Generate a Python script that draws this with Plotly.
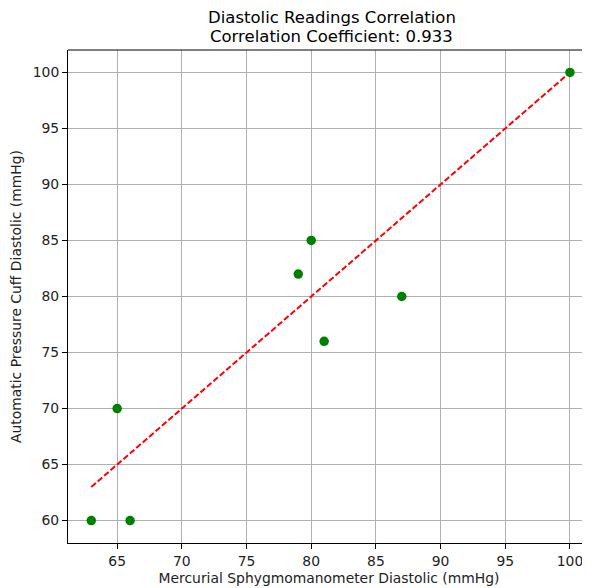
import plotly.graph_objects as go

mercurial = [63, 65, 66, 79, 80, 81, 87, 100]
cuff = [60, 70, 60, 82, 85, 76, 80, 100]
line_x = [min(mercurial), max(mercurial)]
line_y = [min(mercurial), max(mercurial)]
x_ticks = [65, 70, 75, 80, 85, 90, 95, 100]
y_ticks = [60, 65, 70, 75, 80, 85, 90, 95, 100]
title_lines = ["Diastolic Readings Correlation", "Correlation Coefficient: 0.933"]

font = "DejaVu Sans"
fig = go.Figure()
fig.add_trace(go.Scatter(x=line_x, y=line_y, mode="lines",
                         line=dict(color="red", width=2, dash="6px,2.5px"),
                         showlegend=False))
fig.add_trace(go.Scatter(x=mercurial, y=cuff, mode="markers",
                         marker=dict(color="green", size=9.5, line=dict(width=0)),
                         showlegend=False))

axis_common = dict(showgrid=True, gridcolor="#b0b0b0", gridwidth=0.8,
                   showline=True, linecolor="black", linewidth=1,
                   ticks="outside", ticklen=5, tickwidth=1, tickcolor="black",
                   zeroline=False, automargin=False,
                   tickfont=dict(family=font, size=13.9, color="#222"))

fig.update_xaxes(range=[61.2, 101.55], tickvals=x_ticks, mirror=False, **axis_common,
                 title=dict(text="Mercurial Sphygmomanometer Diastolic (mmHg)",
                            font=dict(family=font, size=13.9, color="#222"), standoff=5))
fig.update_yaxes(range=[58, 102], tickvals=y_ticks, **axis_common,
                 title=dict(text="Automatic Pressure Cuff Diastolic (mmHg)",
                            font=dict(family=font, size=13.9, color="#222"), standoff=8))

fig.add_shape(type="line", xref="paper", yref="paper", x0=0, x1=1, y0=1, y1=1,
              line=dict(color="black", width=1))
for txt, shift in zip(title_lines, [33, 14]):
    fig.add_annotation(text=txt, xref="paper", yref="paper", x=0.505, y=1,
                       yanchor="middle", yshift=shift, showarrow=False, height=19,
                       font=dict(family=font, size=16.5, color="black"))

# page body has an 8px margin; compensate so plot area sits where the reference's does
fig.update_layout(width=582, height=580, plot_bgcolor="white", paper_bgcolor="white",
                  margin=dict(l=60, r=0, t=42, b=45))
fig.write_html("out.html")
